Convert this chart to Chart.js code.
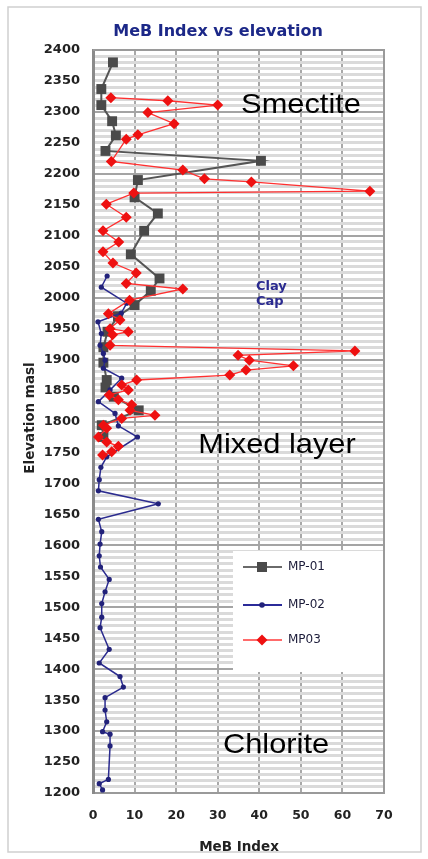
<!DOCTYPE html>
<html>
<head>
<meta charset="utf-8">
<title>MeB Index vs elevation</title>
<script src="https://cdn.jsdelivr.net/npm/chart.js@4.4.1/dist/chart.umd.min.js"></script>
<style>
    html, body { margin: 0; padding: 0; background: #fff; }
    #wrap { width: 428px; height: 859px; }
</style>
</head>
<body>
<div id="wrap"><canvas id="mebChart" width="428" height="859"></canvas></div>
<script>
// ---- data ----
const mp01Meb  = [4.8, 2.0, 2.0, 4.6, 5.5, 3.0, 40.4, 10.8, 10.0, 15.6, 12.3, 9.1, 16.0, 13.9, 10.0, 6.0, 3.5, 2.5, 2.5, 3.3, 3.0, 5.0, 11.0, 2.1, 2.5];
const mp01Elev = [2380, 2337, 2311, 2285, 2262, 2237, 2221, 2190, 2162, 2136, 2108, 2070, 2031, 2011, 1988, 1970, 1945, 1920, 1895, 1867, 1855, 1840, 1818, 1794, 1775];

const mp02Meb  = [3.4, 2.0, 8.1, 6.8, 1.2, 2.0, 1.7, 2.5, 2.9, 2.5, 6.9, 4.1, 1.3, 5.3, 6.1, 10.7, 3.3, 1.9, 1.5, 1.3, 15.7, 1.3, 2.1, 1.7, 1.5, 1.8, 3.9, 2.9, 2.1, 2.1, 1.7, 3.9, 1.5, 6.5, 7.3, 2.9, 2.9, 3.3, 2.3, 4.1, 4.1, 3.7, 1.5, 2.3];
const mp02Elev = [2035, 2017, 1991, 1975, 1961, 1942, 1923, 1910, 1899, 1886, 1870, 1851, 1832, 1813, 1793, 1775, 1743, 1726, 1706, 1688, 1667, 1642, 1622, 1602, 1583, 1565, 1545, 1525, 1506, 1484, 1467, 1432, 1410, 1388, 1371, 1354, 1334, 1315, 1299, 1295, 1276, 1222, 1215, 1205];

const mp03Meb  = [4.3, 18.0, 30.0, 13.2, 19.5, 10.8, 8.0, 4.4, 21.6, 26.8, 38.1, 66.6, 9.8, 3.2, 8.0, 2.4, 6.2, 2.4, 4.8, 10.4, 8.0, 21.6, 8.8, 3.7, 6.5, 4.1, 8.5, 4.7, 4.1, 63.0, 34.9, 37.6, 48.2, 36.8, 32.9, 10.5, 6.9, 8.5, 3.9, 6.1, 9.3, 8.9, 14.9, 6.9, 2.5, 3.3, 1.3, 3.3, 6.1, 4.5, 2.3];
const mp03Elev = [2323, 2318, 2311, 2299, 2281, 2263, 2256, 2220, 2206, 2192, 2187, 2172, 2169, 2151, 2130, 2108, 2090, 2074, 2056, 2040, 2023, 2014, 1996, 1974, 1964, 1950, 1945, 1940, 1923, 1914, 1907, 1899, 1890, 1883, 1875, 1867, 1859, 1851, 1843, 1835, 1827, 1818, 1810, 1805, 1794, 1789, 1775, 1767, 1760, 1751, 1746];

const seriesNames = ['MP-01', 'MP-02', 'MP03'];
const yTickLabels = [1200, 1250, 1300, 1350, 1400, 1450, 1500, 1550, 1600, 1650, 1700, 1750, 1800, 1850, 1900, 1950, 2000, 2050, 2100, 2150, 2200, 2250, 2300, 2350, 2400];
const xTickLabels = [0, 10, 20, 30, 40, 50, 60, 70];

const toPoints = function(xs, ys) {
    return xs.map(function(x, i) { return { x: x, y: ys[i] }; });
};

// text + frame drawn around the chart
const decorations = {
    id: 'decorations',
    beforeDraw: function(chart) {
        const ctx = chart.ctx;
        ctx.save();
        ctx.fillStyle = '#fff';
        ctx.fillRect(0, 0, chart.width, chart.height);
        ctx.strokeStyle = '#cfcfcf';
        ctx.lineWidth = 1.5;
        ctx.strokeRect(8, 7, 413, 845);
        ctx.restore();
    },
    afterDraw: function(chart) {
        const ctx = chart.ctx;
        const area = chart.chartArea;
        ctx.save();

        // top & right edges of plot
        ctx.strokeStyle = '#9a9a9a';
        ctx.lineWidth = 2;
        ctx.beginPath();
        ctx.moveTo(area.left, area.top);
        ctx.lineTo(area.right, area.top);
        ctx.lineTo(area.right, area.bottom);
        ctx.stroke();

        // title
        ctx.fillStyle = '#1c2888';
        ctx.font = 'bold 16px "DejaVu Sans"';
        ctx.textAlign = 'center';
        ctx.textBaseline = 'middle';
        ctx.fillText('MeB Index vs elevation', 218, 32);

        // axis titles
        ctx.fillStyle = '#222';
        ctx.font = 'bold 13.5px "DejaVu Sans"';
        ctx.fillText('MeB Index', 239, 847);
        ctx.save();
        ctx.translate(30, 418);
        ctx.rotate(-Math.PI / 2);
        ctx.fillText('Elevation masl', 0, 0);
        ctx.restore();

        // zone labels
        ctx.fillStyle = '#000';
        ctx.font = '28px "Liberation Sans", Arial';
        ctx.textBaseline = 'alphabetic';
        [['Smectite', 301, 113], ['Mixed layer', 277, 453], ['Chlorite', 276, 753]].forEach(function(t) {
            ctx.save();
            ctx.translate(t[1], t[2]);
            ctx.scale(1.1, 1);
            ctx.fillText(t[0], 0, 0);
            ctx.restore();
        });

        ctx.fillStyle = '#2a2a90';
        ctx.font = 'bold 13px "DejaVu Sans"';
        ctx.textAlign = 'left';
        ctx.fillText('Clay', 256, 290);
        ctx.fillText('Cap', 256, 305);

        // legend box
        ctx.fillStyle = '#fff';
        ctx.fillRect(233, 551, 150, 121);
        const rows = [567, 605, 640];
        const lineCols = ['#6a6a6a', '#2b2b99', '#ff6b6b'];
        ctx.font = '12px "DejaVu Sans"';
        ctx.textBaseline = 'middle';
        rows.forEach(function(y, i) {
            ctx.strokeStyle = lineCols[i];
            ctx.lineWidth = 2;
            ctx.beginPath();
            ctx.moveTo(243, y);
            ctx.lineTo(282, y);
            ctx.stroke();
            if (i === 0) {
                ctx.fillStyle = '#4a4a4a';
                ctx.fillRect(257, y - 5, 10, 10);
            } else if (i === 1) {
                ctx.fillStyle = '#22227a';
                ctx.beginPath();
                ctx.arc(262, y, 2.8, 0, Math.PI * 2);
                ctx.fill();
            } else {
                ctx.fillStyle = '#ee1111';
                ctx.beginPath();
                ctx.moveTo(262, y - 5.5);
                ctx.lineTo(267.5, y);
                ctx.lineTo(262, y + 5.5);
                ctx.lineTo(256.5, y);
                ctx.closePath();
                ctx.fill();
            }
            ctx.fillStyle = '#1c1c3a';
            ctx.fillText(seriesNames[i], 288, y);
        });

        ctx.restore();
    }
};

const ctx = document.getElementById('mebChart');

new Chart(ctx, {
    type: 'scatter',
    data: {
        datasets: [{
            label: seriesNames[0],
            data: toPoints(mp01Meb, mp01Elev),
            showLine: true,
            borderColor: '#555555',
            borderWidth: 2,
            backgroundColor: '#4a4a4a',
            pointBackgroundColor: '#4a4a4a',
            pointBorderColor: '#4a4a4a',
            pointStyle: 'rect',
            pointRadius: 7,
            pointBorderWidth: 0,
            order: 3
        }, {
            label: seriesNames[1],
            data: toPoints(mp02Meb, mp02Elev),
            showLine: true,
            borderColor: '#2b2b8f',
            borderWidth: 1.5,
            pointBackgroundColor: '#22227a',
            pointBorderColor: '#22227a',
            pointStyle: 'circle',
            pointRadius: 2.6,
            pointBorderWidth: 0,
            order: 2
        }, {
            label: seriesNames[2],
            data: toPoints(mp03Meb, mp03Elev),
            showLine: true,
            borderColor: '#ff3030',
            borderWidth: 1.3,
            pointBackgroundColor: '#ee1111',
            pointBorderColor: '#ee1111',
            pointStyle: 'rectRot',
            pointRadius: 5.5,
            pointBorderWidth: 0,
            order: 1
        }]
    },
    options: {
        responsive: false,
        animation: false,
        devicePixelRatio: 1,
        layout: { padding: { top: 50, right: 44, left: 0, bottom: 0 } },
        plugins: {
            legend: { display: false },
            tooltip: { enabled: false }
        },
        scales: {
            x: {
                type: 'linear',
                min: 0,
                max: 70,
                ticks: {
                    stepSize: 10,
                    padding: 15,
                    color: '#222',
                    font: { family: 'DejaVu Sans', weight: 'bold', size: 12.5 },
                    callback: function(v) { return xTickLabels.includes(v) ? String(v) : ''; }
                },
                grid: { color: '#a8a8a8', lineWidth: 2, drawTicks: false },
                border: { color: '#9a9a9a', width: 2 },
                afterFit: function(scale) { scale.height = 66; }
            },
            y: {
                type: 'linear',
                min: 1200,
                max: 2400,
                ticks: {
                    stepSize: 10,
                    autoSkip: false,
                    padding: 13,
                    color: '#222',
                    font: { family: 'DejaVu Sans', weight: 'bold', size: 13 },
                    callback: function(v) { return yTickLabels.includes(v) ? String(v) : ''; }
                },
                grid: {
                    color: function(c) {
                        const v = c.tick ? Math.round(c.tick.value) : 0;
                        return v % 100 === 0 ? '#a4a4a4' : '#dadada';
                    },
                    lineWidth: function(c) {
                        const v = c.tick ? Math.round(c.tick.value) : 0;
                        return v % 100 === 0 ? 2 : 3;
                    },
                    drawTicks: false
                },
                border: { color: '#8a8a8a', width: 3 },
                afterFit: function(scale) { scale.width = 93; }
            }
        }
    },
    plugins: [decorations]
});
</script>
</body>
</html>
